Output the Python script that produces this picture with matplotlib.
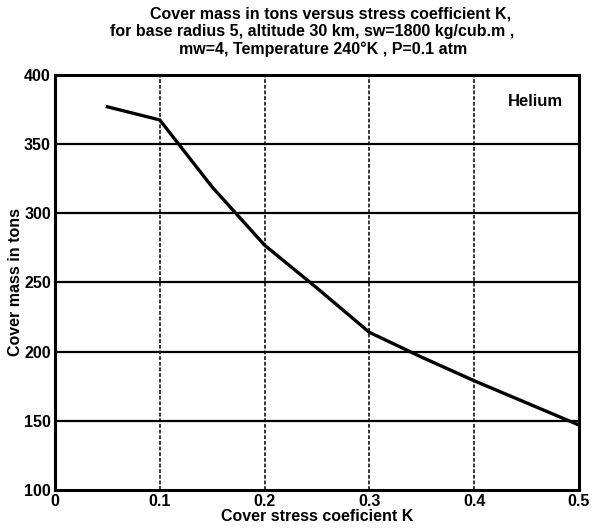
import matplotlib
matplotlib.use("Agg")
import matplotlib.pyplot as plt

K = [0.05, 0.1, 0.15, 0.2, 0.25, 0.3, 0.35, 0.4, 0.45, 0.5]
mass = [377, 367.5, 319, 277, 246, 214, 196, 179, 163, 147]
xticks = [0, 0.1, 0.2, 0.3, 0.4, 0.5]
xticklabels = ["0", "0.1", "0.2", "0.3", "0.4", "0.5"]
yticks = [100, 150, 200, 250, 300, 350, 400]

plt.rcParams['font.family'] = ['Liberation Sans', 'DejaVu Sans']
plt.rcParams['font.weight'] = 'bold'

fig = plt.figure(figsize=(5.98, 5.31), dpi=100)
ax = fig.add_axes([0.092, 0.0772, 0.876, 0.7816])

ax.plot(K, mass, color='black', lw=2.4, solid_joinstyle='miter')
ax.set_xlim(0, 0.5)
ax.set_ylim(100, 400)
ax.set_xticks(xticks)
ax.set_xticklabels(xticklabels)
ax.set_yticks(yticks)
for y in yticks[1:-1]:
    ax.axhline(y, color='black', lw=1.6, zorder=1)
for x in xticks[1:-1]:
    ax.axvline(x, color='black', lw=1.1, ls=(0, (2.5, 1.2)), zorder=1)
for s in ax.spines.values():
    s.set_linewidth(2.2)
ax.tick_params(length=0, pad=3, labelsize=11.5)
for lab in ax.get_xticklabels() + ax.get_yticklabels():
    lab.set_fontweight('bold')

ax.set_xlabel("Cover stress coeficient K", fontsize=11.5, fontweight='bold', labelpad=0)
ax.set_ylabel("Cover mass in tons", fontsize=11.5, fontweight='bold', labelpad=1)
ax.text(0.97, 0.955, "Helium", transform=ax.transAxes, ha='right', va='top',
        fontsize=12, fontweight='bold')

fig.text(0.552, 0.988, "Cover mass in tons versus stress coefficient K,",
         ha='center', va='top', fontsize=11.5, fontweight='bold')
fig.text(0.522, 0.955, "for base radius 5, altitude 30 km, sw=1800 kg/cub.m ,",
         ha='center', va='top', fontsize=11.5, fontweight='bold')
fig.text(0.54, 0.922, "mw=4, Temperature 240°K , P=0.1 atm",
         ha='center', va='top', fontsize=11.5, fontweight='bold')

fig.savefig("out.png", dpi=100)
